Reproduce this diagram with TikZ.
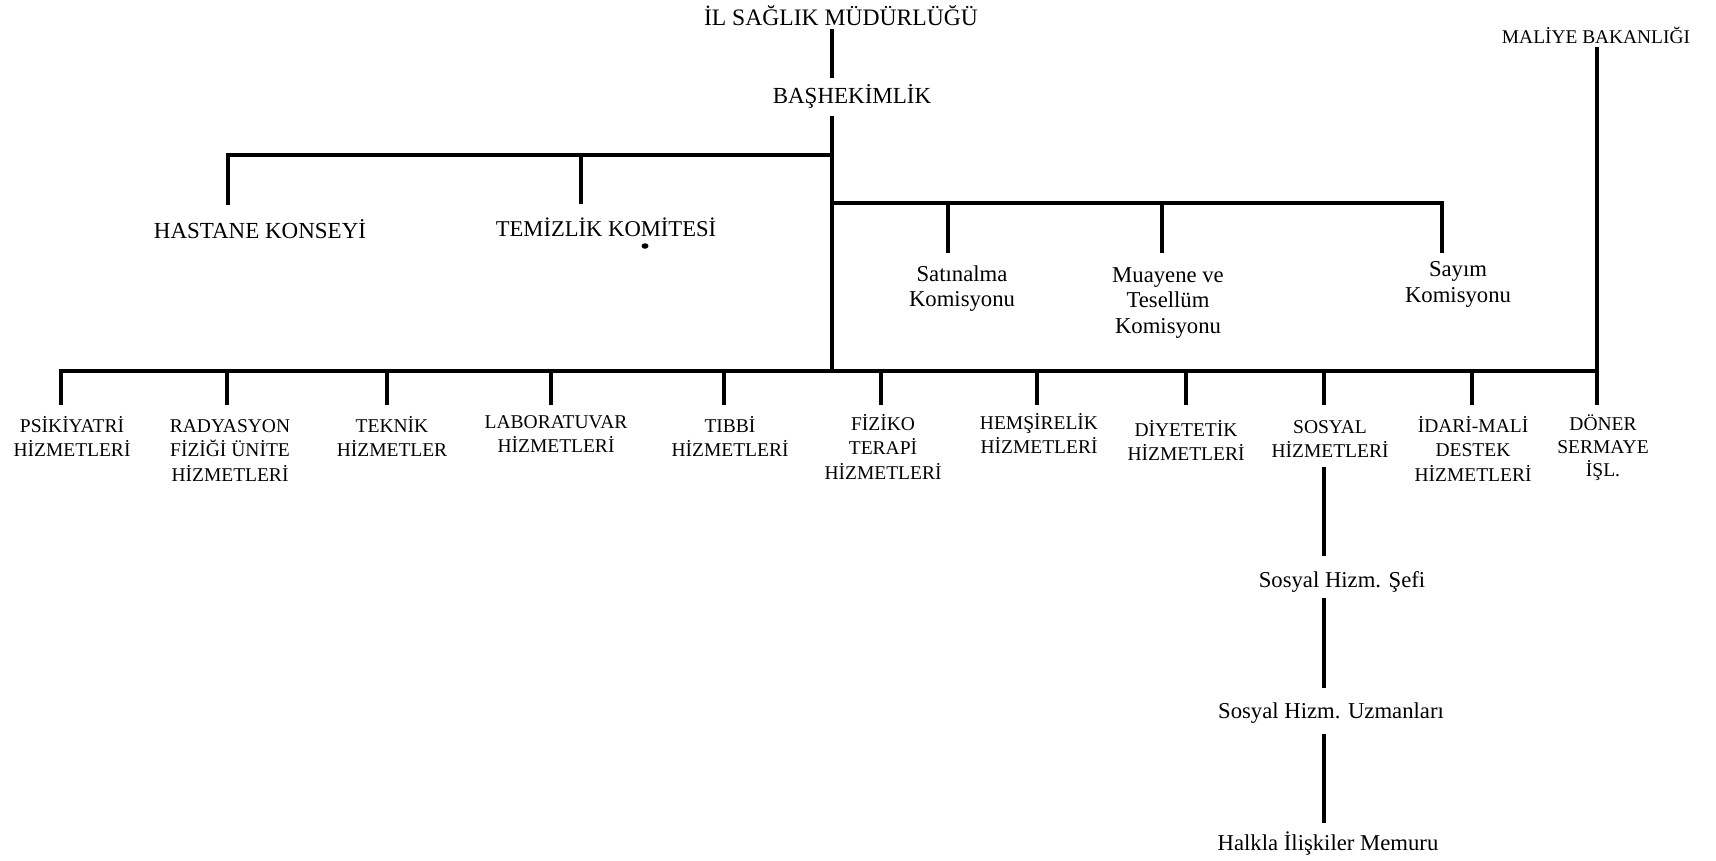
\documentclass[tikz,border=0pt]{standalone}
\usepackage{fontspec}
\setmainfont{Liberation Serif}
\usetikzlibrary{shapes.geometric}
% zero-width strut that fixes the top of every label box
\newcommand{\tb}{\rule{0pt}{22pt}}
\begin{document}
\begin{tikzpicture}[x=1pt,y=-1pt,
  lab/.style={inner sep=0pt, outer sep=0pt, text depth=0pt, anchor=base, align=center},
  head/.style={lab, font=\fontsize{23}{28}\selectfont},
  capt/.style={lab, font=\fontsize{19.5}{24.5}\selectfont},
  lowc/.style={lab, font=\fontsize{22.7}{25.5}\selectfont},
  ln/.style={line width=3.2pt, line join=miter}]
\useasboundingbox (0,0) rectangle (1716,860);

% --- headings ---
\node[head, font=\fontsize{23.6}{28}\selectfont, outer ysep=4pt] (ilsm) at (841,25) {\tb İL SAĞLIK MÜDÜRLÜĞÜ};
\node[head, outer ysep=3pt] (bas) at (852,103) {\tb BAŞHEKİMLİK};
\node[head, font=\fontsize{19.4}{24}\selectfont, outer ysep=4pt] (mal) at (1596,43) {\tb MALİYE BAKANLIĞI};

% --- councils and committees ---
\node[head, outer ysep=11pt] (hast) at (260,238) {\tb HASTANE KONSEYİ};
\node[head, font=\fontsize{22.6}{28}\selectfont, outer ysep=10pt] (temz) at (606,236) {\tb TEMİZLİK KOMİTESİ};
\node[ellipse, fill=black, inner sep=0pt, minimum width=7pt, minimum height=5.5pt] (mark) at (645,246) {};

\node[lowc, outer ysep=6pt] (satin) at (962,306.5) {\tb Satınalma\\Komisyonu};
\node[lowc, outer ysep=7pt] (muay) at (1168,333) {\tb Muayene ve\\Tesellüm\\Komisyonu};
\node[lowc, outer ysep=2pt] (sayim) at (1458,302) {\tb Sayım\\Komisyonu};

% --- service units ---
\node[capt, outer ysep=5pt] (psik)  at (72,456.5)  {\tb PSİKİYATRİ\\HİZMETLERİ};
\node[capt, outer ysep=5pt] (rady)  at (230,481)   {\tb RADYASYON\\FİZİĞİ ÜNİTE\\HİZMETLERİ};
\node[capt, outer ysep=5pt] (tekn)  at (392,456.5) {\tb TEKNİK\\HİZMETLER};
\node[capt, outer ysep=1pt] (labr)  at (556,452.5) {\tb LABORATUVAR\\HİZMETLERİ};
\node[capt, outer ysep=5pt] (tibb)  at (730,456.5) {\tb TIBBİ\\HİZMETLERİ};
\node[capt, outer ysep=3pt] (fizk)  at (883,479)   {\tb FİZİKO\\TERAPİ\\HİZMETLERİ};
\node[capt, outer ysep=2pt] (hems)  at (1039,453.5){\tb HEMŞİRELİK\\HİZMETLERİ};
\node[capt, outer ysep=9pt] (diyt)  at (1186,460.5){\tb DİYETETİK\\HİZMETLERİ};
\node[capt, outer ysep=6pt] (sosy)  at (1330,457.5){\tb SOSYAL\\HİZMETLERİ};
\node[capt, outer ysep=5pt] (idar)  at (1473,481)  {\tb İDARİ-MALİ\\DESTEK\\HİZMETLERİ};
\node[capt, outer ysep=3pt, font=\fontsize{19.5}{23}\selectfont] (donr) at (1603,476) {\tb DÖNER\\SERMAYE\\İŞL.};

% --- social services chain ---
\node[lowc, outer ysep=9pt] (sefi) at (1342,587) {\tb Sosyal Hizm. Şefi};
\node[lowc, outer ysep=8pt] (uzmn) at (1331,718) {\tb Sosyal Hizm. Uzmanları};
\node[lowc, outer ysep=5pt] (halk) at (1328,850) {\tb Halkla İlişkiler Memuru};

% --- junction points on the buses ---
\coordinate (tA) at (832,155);
\coordinate (aH) at (228,155);
\coordinate (aT) at (581,155);
\coordinate (tC) at (832,203);
\coordinate (cS) at (948,203);
\coordinate (cM) at (1162,203);
\coordinate (cY) at (1442,203);
\coordinate (tB) at (832,371);
\coordinate (b1) at (61,371);
\coordinate (b2) at (227,371);
\coordinate (b3) at (387,371);
\coordinate (b4) at (551,371);
\coordinate (b5) at (724,371);
\coordinate (b6) at (881,371);
\coordinate (b7) at (1037,371);
\coordinate (b8) at (1186,371);
\coordinate (b9) at (1324,371);
\coordinate (b10) at (1472,371);
\coordinate (b11) at (1597,371);

% --- trunk ---
\draw[ln] (ilsm.south -| tA) -- (bas.north -| tA);
\draw[ln, shorten <=10pt] (bas.south -| tA) -- (tB);

% --- upper bus ---
\draw[ln] (hast.north -| aH) -- (aH) -- (tA);
\draw[ln] (aT) -- (temz.north -| aT);

% --- commission bus ---
\draw[ln] (tC) -- (cY) -- (sayim.north -| cY);
\draw[ln] (cS) -- (satin.north -| cS);
\draw[ln] (cM) -- (muay.north -| cM);

% --- service bus ---
\draw[ln] (psik.north -| b1) -- (b1) -- (b11);
\draw[ln] (b2) -- (rady.north -| b2);
\draw[ln] (b3) -- (tekn.north -| b3);
\draw[ln] (b4) -- (labr.north -| b4);
\draw[ln] (b5) -- (tibb.north -| b5);
\draw[ln] (b6) -- (fizk.north -| b6);
\draw[ln] (b7) -- (hems.north -| b7);
\draw[ln] (b8) -- (diyt.north -| b8);
\draw[ln] (b9) -- (sosy.north -| b9);
\draw[ln] (b10) -- (idar.north -| b10);
\draw[ln] (mal.south -| b11) -- (donr.north -| b11);

% --- social services chain ---
\draw[ln, shorten <=3.5pt] (sosy.south -| b9) -- (sefi.north -| b9);
\draw[ln, shorten <=2pt] (sefi.south -| b9) -- (uzmn.north -| b9);
\draw[ln, shorten <=8pt] (uzmn.south -| b9) -- (halk.north -| b9);
\end{tikzpicture}
\end{document}
